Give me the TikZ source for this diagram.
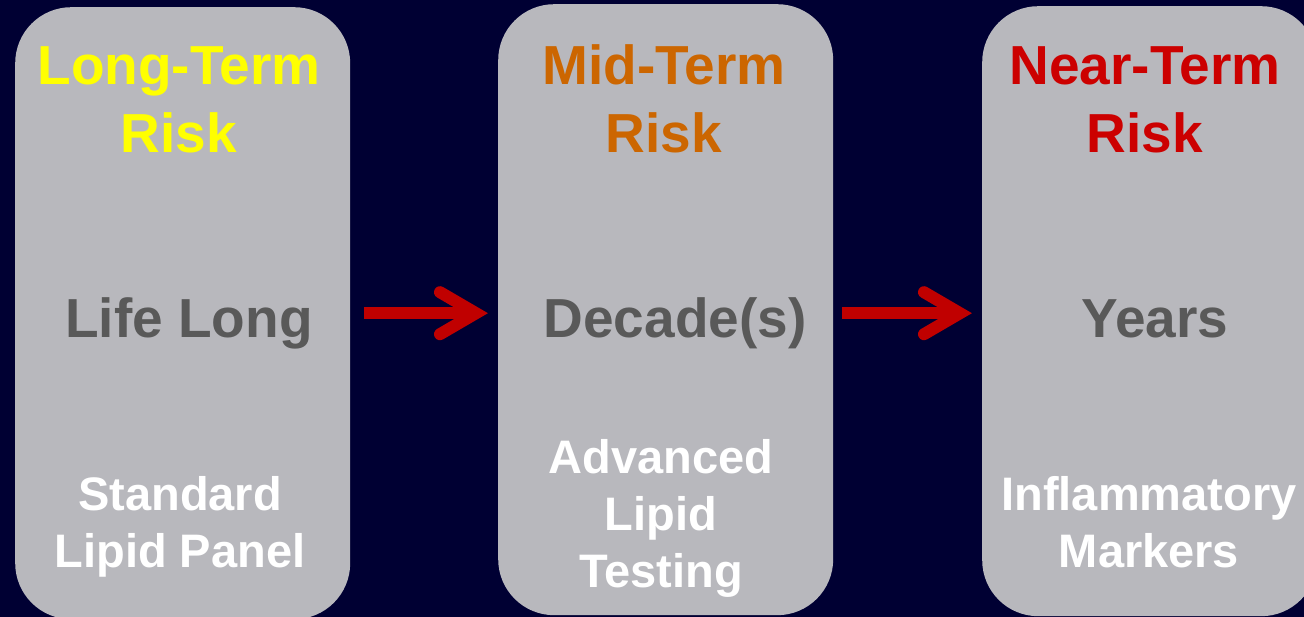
\documentclass[tikz,border=0pt]{standalone}
\usepackage{fontspec}
\setmainfont{Liberation Sans}
\usetikzlibrary{calc}
\definecolor{bg}{HTML}{000033}
\definecolor{boxgray}{HTML}{B8B8BD}
\definecolor{headyellow}{HTML}{FFFF00}
\definecolor{headorange}{HTML}{CC6600}
\definecolor{headred}{HTML}{CC0000}
\definecolor{midgray}{HTML}{595959}
\definecolor{arrowred}{HTML}{C00000}
\begin{document}
\begin{tikzpicture}[x=1pt,y=-1pt,
  panel/.style={fill=boxgray, draw=none, rounded corners=56pt, minimum width=335pt, inner sep=0pt, anchor=north west},
  headtxt/.style={anchor=base, align=center, inner sep=0pt, font=\fontsize{55}{68}\selectfont\bfseries},
  midtxt/.style={anchor=base, inner sep=0pt, text=midgray, font=\fontsize{55}{68}\selectfont\bfseries},
  subtxt/.style={anchor=base, align=center, inner sep=0pt, text=white, font=\fontsize{47}{57}\selectfont\bfseries},
  shaft/.style={draw=arrowred, line width=12pt, line cap=butt},
  arrowhead/.style={draw=arrowred, line width=12pt, line cap=round, line join=miter}
]
\useasboundingbox (0,0) rectangle (1304,617);
\fill[bg] (0,0) rectangle (1304,617);

\node[panel, minimum height=612pt] (b1) at (15,7) {};
\node[panel, minimum height=611pt] (b2) at (498,4) {};
\node[panel, minimum height=610pt] (b3) at (982,6) {};

\node[headtxt, text=headyellow] (h1) at (179,153) {Long-Term\\Risk};
\node[headtxt, text=headorange] (h2) at (664,153) {Mid-Term\\Risk};
\node[headtxt, text=headred] (h3) at (1145,153) {Near-Term\\Risk};

\node[midtxt] (m1) at (189,338) {Life Long};
\node[midtxt] (m2) at (675,338) {Decade(s)};
\node[midtxt] (m3) at (1155,338) {Years};

\node[subtxt] (s1) at (180,567) {Standard\\Lipid Panel};
\node[subtxt] (s2) at (661,587) {Advanced\\Lipid\\Testing};
\node[subtxt] (s3) at (1149,567) {Inflammatory\\Markers};

\coordinate (t1) at ([xshift=-22pt]b2.west |- b1.east);
\coordinate (t2) at ([xshift=-22pt]b3.west |- b1.east);
\draw[shaft] ([xshift=14pt]b1.east) -- (t1);
\draw[arrowhead] ($(t1)+(-36,-21)$) -- (t1) -- ($(t1)+(-36,21)$);
\draw[shaft] ([xshift=9pt]b2.east |- b1.east) -- (t2);
\draw[arrowhead] ($(t2)+(-36,-21)$) -- (t2) -- ($(t2)+(-36,21)$);
\end{tikzpicture}
\end{document}
